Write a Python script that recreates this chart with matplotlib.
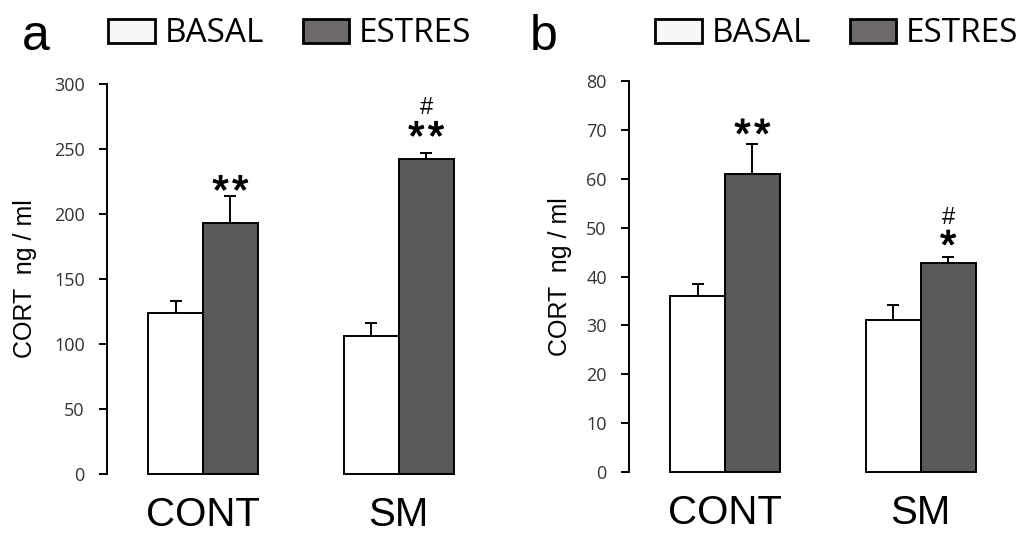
import matplotlib.pyplot as plt
import matplotlib.patheffects as pe
from matplotlib.patches import Patch

grupos = ["CONT", "SM"]
series = ["BASAL", "ESTRES"]

# panel a
basal_a = [124, 106]
basal_a_err = [9, 10]
estres_a = [193, 242]
estres_a_err = [21, 5]

# panel b
basal_b = [36, 31]
basal_b_err = [2.4, 3.1]
estres_b = [61, 42.8]
estres_b_err = [6.2, 1.1]

ticks_a = [0, 50, 100, 150, 200, 250, 300]
ticks_b = [0, 10, 20, 30, 40, 50, 60, 70, 80]

ylabel = "CORT  ng / ml"

COL_BASAL = "white"
COL_ESTRES = "#595959"
ARIAL = "Liberation Sans"
TICKF = "Open Sans"

W, H = 1034, 535
fig = plt.figure(figsize=(W / 100, H / 100), dpi=100)


def panel(rect, basal, basal_err, estres, estres_err, ticks, ylab_x, marcas):
    ax = fig.add_axes(rect)
    x = [0, 1]
    w = 0.28
    xb = [i - w / 2 for i in x]
    xe = [i + w / 2 for i in x]
    ax.bar(xb, basal, w, color=COL_BASAL, edgecolor="black", linewidth=1.4, clip_on=False, zorder=2)
    ax.bar(xe, estres, w, color=COL_ESTRES, edgecolor="black", linewidth=1.4, clip_on=False, zorder=2)
    ax.errorbar(xb, basal, yerr=[[0, 0], basal_err], fmt="none", ecolor="black",
                elinewidth=1.4, capsize=4, capthick=1.4, zorder=1)
    ax.errorbar(xe, estres, yerr=[[0, 0], estres_err], fmt="none", ecolor="black",
                elinewidth=1.4, capsize=4, capthick=1.4, zorder=1)

    ax.set_xlim(-0.49, 1.4)
    ax.set_ylim(ticks[0], ticks[-1])
    for s in ["top", "right", "bottom"]:
        ax.spines[s].set_visible(False)
    ax.spines["left"].set_linewidth(1.4)
    ax.set_yticks(ticks)
    ax.set_yticklabels([str(t) for t in ticks], fontfamily=TICKF, fontsize=13, color="#333333")
    ax.tick_params(axis="y", length=6, width=1.4, pad=10)
    ax.set_xticks(x)
    ax.set_xticklabels(grupos, fontfamily=ARIAL, fontsize=29)
    ax.tick_params(axis="x", length=0, pad=16)
    ax.set_ylabel(ylabel, fontfamily=ARIAL, fontsize=18)
    ax.yaxis.set_label_coords(ylab_x, 0.5)

    tops = [v + e for v, e in zip(estres, estres_err)]
    for i, txt, dy, fs in marcas:
        t = ax.annotate(txt, xy=(xe[i], tops[i]), xytext=(0, dy), textcoords="offset points",
                        ha="center", va="baseline", fontfamily=[ARIAL, "DejaVu Sans"], fontsize=fs)
        if "*" in txt:
            t.set_path_effects([pe.withStroke(linewidth=0.8, foreground="black")])
    return ax


pa = [107 / W, 1 - 474 / H, 370 / W, 390 / H]
pb = [629 / W, 1 - 472 / H, 370 / W, 391 / H]

dos = "*\u200a*"
panel(pa, basal_a, basal_a_err, estres_a, estres_a_err, ticks_a, -0.19,
      [(0, dos, -6, 30), (1, dos, 2, 30), (1, "#", 28, 17)])
panel(pb, basal_b, basal_b_err, estres_b, estres_b_err, ticks_b, -0.154,
      [(0, dos, -3, 30), (1, "*", -1, 30), (1, "#", 24, 17)])

fig.text(22 / W, 1 - 50 / H, "a", fontfamily=ARIAL, fontsize=36, va="baseline")
fig.text(530 / W, 1 - 50 / H, "b", fontfamily=ARIAL, fontsize=36, va="baseline")

handles = [Patch(facecolor="#f8f6f6", edgecolor="black", linewidth=2),
           Patch(facecolor="#6e6a69", edgecolor="black", linewidth=2)]
for x0 in [108, 655]:
    fig.legend(handles, series, loc="center left", bbox_to_anchor=(x0 / W, 1 - 34 / H),
               ncol=2, frameon=False, borderpad=0, borderaxespad=0,
               handlelength=1.4, handleheight=0.72, handletextpad=0.3,
               columnspacing=1.15, prop={"family": TICKF, "size": 24})

fig.savefig("out.png", dpi=100)
